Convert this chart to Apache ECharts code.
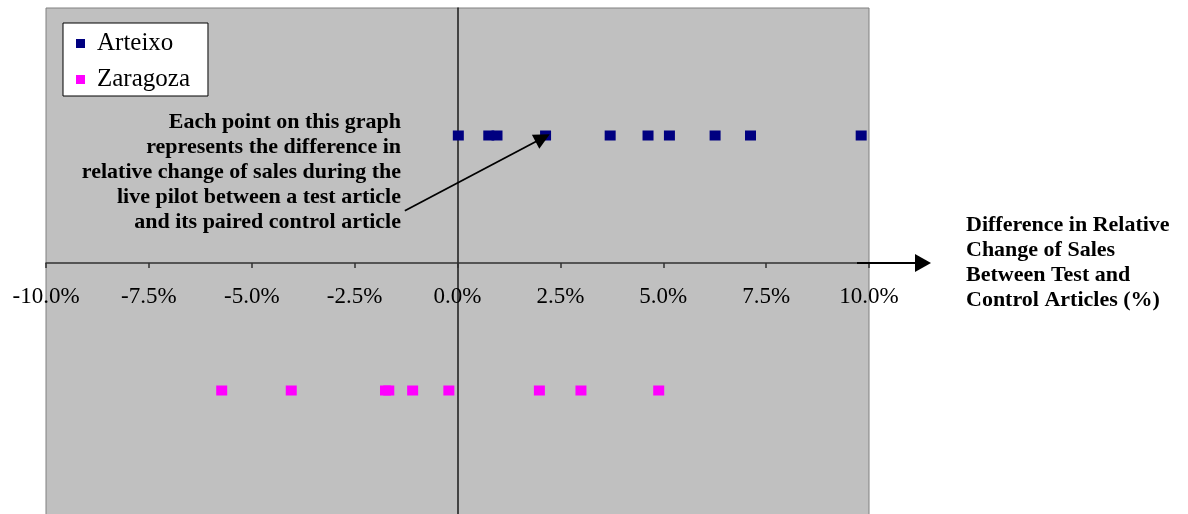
<!DOCTYPE html>
<html>
<head>
<meta charset="utf-8">
<script src="https://cdn.jsdelivr.net/npm/echarts@6/dist/echarts.min.js"></script>
<style>
html,body{margin:0;padding:0;background:#fff;}
#chart{width:1188px;height:514px;}
</style>
</head>
<body>
<div id="chart"></div>
<script>
var seriesNames = ['Arteixo', 'Zaragoza'];
var arteixoX = [0.02, 0.76, 0.96, 2.14, 3.71, 4.63, 5.15, 6.26, 7.12, 9.81];
var arteixoY = 0.5;
var zaragozaX = [-5.73, -4.04, -1.75, -1.67, -1.09, -0.21, 1.99, 3.00, 4.89];
var zaragozaY = -0.5;
var xTicks = [-10, -7.5, -5, -2.5, 0, 2.5, 5, 7.5, 10];
var axisTitle = ['Difference in Relative', 'Change of Sales', 'Between Test and', 'Control Articles (%)'];
var noteLines = ['Each point on this graph', 'represents the difference in', 'relative change of sales during the', 'live pilot between a test article', 'and its paired control article'];
var noteArrowFrom = [-1.28, 0.205];
var noteArrowTo = [2.07, 0.49];

var SERIF = '"Liberation Serif", "Times New Roman", serif';
var legendIcon = 'path://M0,0h9v9h-9zM15.99,8.99h0.01v0.01h-0.01z';

function pts(xs, y) { return xs.map(function (x) { return [x, y]; }); }

var chart = echarts.init(document.getElementById('chart'), null, {renderer: 'canvas'});
chart.setOption({
  animation: false,
  backgroundColor: '#ffffff',
  grid: {
    left: 46, right: 319, top: 8, bottom: -4,
    containLabel: false, outerBoundsMode: 'none',
    show: true, backgroundColor: '#c0c0c0', borderColor: '#808080', borderWidth: 1
  },
  legend: {
    orient: 'vertical', left: 63, top: 23,
    padding: [8, 18, 4, 13], itemGap: 11,
    itemWidth: 16, itemHeight: 9,
    backgroundColor: '#ffffff', borderColor: '#000000', borderWidth: 1,
    textStyle: {fontFamily: SERIF, fontSize: 25, color: '#000'},
    data: [{name: seriesNames[0], icon: legendIcon}, {name: seriesNames[1], icon: legendIcon}]
  },
  xAxis: {
    type: 'value', min: xTicks[0], max: xTicks[xTicks.length - 1], interval: 2.5,
    position: 'bottom', offset: -255,
    name: axisTitle.join('\n'), nameLocation: 'end', nameGap: 97,
    nameTextStyle: {fontFamily: SERIF, fontSize: 22, fontWeight: 'bold', color: '#000',
      lineHeight: 25, align: 'left', verticalAlign: 'middle', padding: [0, 0, 8, 0]},
    axisLine: {show: true, onZero: false, lineStyle: {color: '#303030', width: 1.5}},
    axisTick: {show: true, inside: false, length: 5, lineStyle: {color: '#303030', width: 1.5}},
    axisLabel: {fontFamily: SERIF, fontSize: 23, color: '#000', margin: 22,
      formatter: function (v) { return v.toFixed(1) + '%'; }},
    splitLine: {show: false}
  },
  yAxis: {
    type: 'value', min: -1, max: 1,
    axisLine: {show: true, onZero: true, lineStyle: {color: '#1a1a1a', width: 1.5}},
    axisTick: {show: false}, axisLabel: {show: false}, splitLine: {show: false}
  },
  series: [
    {
      name: seriesNames[0], type: 'scatter', symbol: 'rect', symbolSize: [11, 10],
      itemStyle: {color: '#000080', opacity: 1},
      data: pts(arteixoX, arteixoY),
      markLine: {
        silent: true, symbol: ['none', 'triangle'], symbolSize: 16,
        lineStyle: {color: '#000', width: 1.8, type: 'solid'},
        itemStyle: {color: '#000'},
        label: {show: false},
        data: [[{coord: noteArrowFrom}, {coord: noteArrowTo}]]
      }
    },
    {
      name: seriesNames[1], type: 'scatter', symbol: 'rect', symbolSize: [11, 10],
      itemStyle: {color: '#ff00ff', opacity: 1},
      data: pts(zaragozaX, zaragozaY)
    }
  ],
  graphic: [
    {
      type: 'text', x: 401, y: 110, z: 10,
      style: {text: noteLines.join('\n'), fill: '#000', align: 'right', verticalAlign: 'top',
        font: 'bold 22px ' + SERIF, lineHeight: 25}
    },
    {
      type: 'line', z: 10,
      shape: {x1: 857, y1: 263, x2: 918, y2: 263},
      style: {stroke: '#000', lineWidth: 2}
    },
    {
      type: 'polygon', z: 10,
      shape: {points: [[915, 254], [931, 263], [915, 272]]},
      style: {fill: '#000'}
    }
  ]
});
</script>
</body>
</html>
